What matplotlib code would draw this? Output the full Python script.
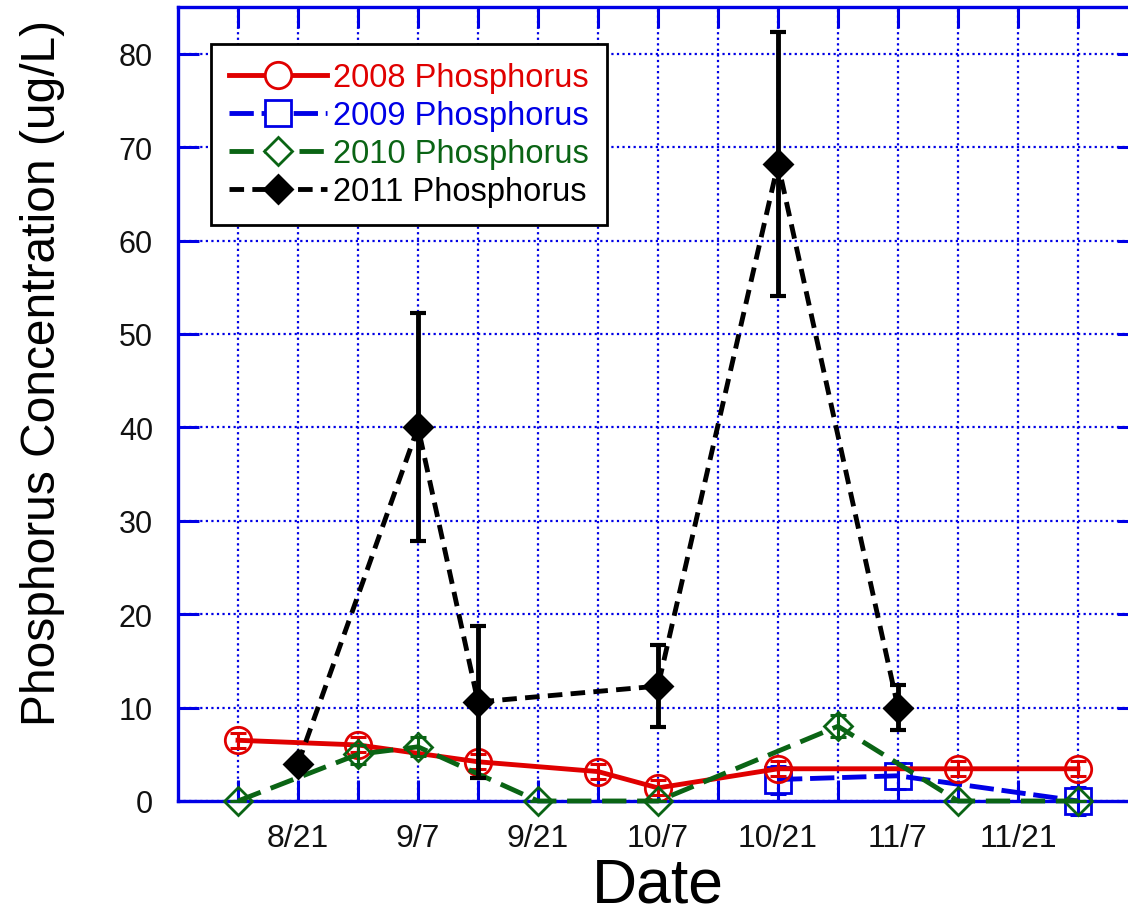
import numpy as np
import matplotlib
matplotlib.use("Agg")
import matplotlib.pyplot as plt
from matplotlib.lines import Line2D

plt.rcParams['font.family'] = ['Liberation Sans', 'DejaVu Sans']

# sampling position (one grid step ~ one week) and tick labels
tick_pos = [2, 4, 6, 8, 10, 12, 14]
tick_labels = ['8/21', '9/7', '9/21', '10/7', '10/21', '11/7', '11/21']

x_2008 = [1, 3, 5, 7, 8, 10, 13, 15]
p_2008 = [6.5, 6.0, 4.2, 3.15, 1.4, 3.45, 3.45, 3.45]
e_2008 = [0.8, 0.8, 0.8, 0.8, 0.8, 0.8, 0.8, 0.8]

x_2009 = [10, 12, 15]
p_2009 = [2.3, 2.7, 0.0]
e_2009 = [1.5, 1.4, 1.45]

x_2010 = [1, 3, 4, 6, 8, 11, 13, 15]
p_2010 = [0.0, 5.0, 5.8, 0.0, 0.0, 8.0, 0.0, 0.0]
e_2010 = [0.0, 1.0, 1.0, 0.0, 0.0, 1.2, 0.0, 0.0]

x_2011 = [2, 4, 5, 8, 10, 12]
p_2011 = [4.0, 40.0, 10.6, 12.3, 68.2, 10.0]
e_2011 = [0.5, 12.2, 8.1, 4.4, 14.1, 2.4]

blue = '#0000e6'
red = '#e00000'
green = '#0a6414'

fig = plt.figure(figsize=(11.28, 9.2), dpi=100)
ax = fig.add_axes([178 / 1128, 118 / 920, 960 / 1128, 794 / 920])

lw = 3.5
series = [
    (x_2008, p_2008, e_2008, red, '-', 'o', 19, red, 3, '2008 Phosphorus'),
    (x_2009, p_2009, e_2009, blue, (0, (5, 1.6)), 's', 19, blue, 2, '2009 Phosphorus'),
    (x_2010, p_2010, e_2010, green, (0, (5, 2.2)), 'D', 14, green, 4, '2010 Phosphorus'),
    (x_2011, p_2011, e_2011, 'black', (0, (3, 1.7)), 'D', 14, 'black', 5, '2011 Phosphorus'),
]

handles = []
for xs, ys, es, col, ls, mk, ms, ec, z, lab in series:
    filled = lab.startswith('2011')
    ax.plot(xs, ys, color=col, lw=lw, linestyle=ls, zorder=z, clip_on=False)
    ax.errorbar(xs, ys, yerr=es, fmt='none', ecolor=ec, elinewidth=3.5 if filled else 2.2,
                capsize=6, capthick=3 if filled else 2.2, zorder=z + 0.1, clip_on=False)
    ax.plot(xs, ys, linestyle='none', marker=mk, ms=ms,
            mfc=col if filled else 'none', mec=col, mew=2,
            zorder=z + 0.2, clip_on=False)
    handles.append(Line2D([], [], color=col, lw=lw, linestyle=ls, marker=mk, ms=ms,
                          mfc=col if filled else 'white', mec=col, mew=2, label=lab))

ax.set_xlim(0, 16)
ax.set_ylim(0, 85)
ax.set_xticks(range(1, 16))
ax.set_xticklabels([tick_labels[tick_pos.index(i)] if i in tick_pos else '' for i in range(1, 16)])
ax.set_yticks(range(0, 81, 10))

ax.grid(True, color=blue, linestyle=(0, (1, 1.5)), lw=1.6)
ax.set_axisbelow(True)
for s in ax.spines.values():
    s.set_color(blue)
    s.set_linewidth(2.4)

ax.tick_params(direction='in', length=15, width=2.2, color=blue, top=True, right=True,
               labelsize=22, labelcolor='#111111')
ax.tick_params(axis='x', pad=16, labelsize=23)
ax.tick_params(axis='y', pad=18)

ax.set_xlabel('Date', fontsize=45, labelpad=2)
ax.set_ylabel('Phosphorus Concentration (ug/L)', fontsize=34.5)
ax.yaxis.set_label_coords(-0.118, 0.54)

leg = ax.legend(handles=handles, loc='upper left', bbox_to_anchor=(33 / 960, 1 - 37 / 794),
                fontsize=23.5, frameon=True, fancybox=False, framealpha=1,
                edgecolor='black', handlelength=3.0, handletextpad=0.2,
                labelspacing=0.22, borderpad=0.55, borderaxespad=0)
leg.get_frame().set_linewidth(2)
for t, h in zip(leg.get_texts(), handles):
    t.set_color(h.get_color())
leg.set_zorder(10)

fig.savefig('out.png', dpi=100)
